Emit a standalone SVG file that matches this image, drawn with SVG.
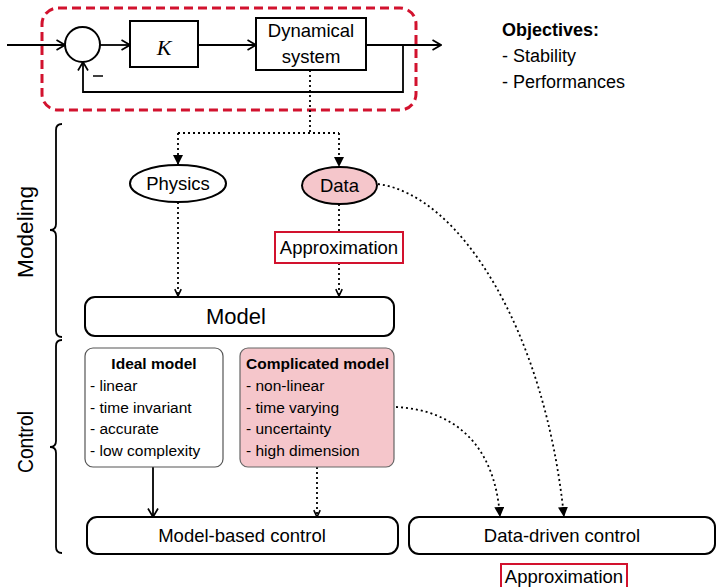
<svg xmlns="http://www.w3.org/2000/svg" width="716" height="587" viewBox="0 0 716 587">
<style>
text{font-family:"Liberation Sans",Arial,sans-serif;fill:#000}
.ln{fill:none;stroke:#000;stroke-width:1.8}
.dot{fill:none;stroke:#000;stroke-width:1.8;stroke-dasharray:2 3}
.box{fill:#fff;stroke:#000;stroke-width:2}
.pink{fill:#f5c6cb}
.red{fill:#fff;stroke:#d2122e;stroke-width:2}
.t18{font-size:18.5px}
.t15{font-size:15.5px}
.b{font-weight:bold}
</style>
<defs>
<marker id="open" viewBox="0 0 10 12" refX="9.5" refY="6" markerWidth="10" markerHeight="12" markerUnits="userSpaceOnUse" orient="auto"><path d="M1,1 L9.5,6 L1,11" fill="none" stroke="#000" stroke-width="1.7"/></marker>
<marker id="openS" viewBox="0 0 10 10" refX="9.5" refY="5" markerWidth="8" markerHeight="8" markerUnits="userSpaceOnUse" orient="auto"><path d="M1,1 L9.5,5 L1,9" fill="none" stroke="#000" stroke-width="2"/></marker>
<marker id="tri" viewBox="0 0 10 10" refX="10" refY="5" markerWidth="10" markerHeight="10" markerUnits="userSpaceOnUse" orient="auto"><path d="M0,0 L10,5 L0,10 Z" fill="#000"/></marker>
</defs>

<rect x="42" y="8" width="374" height="102" rx="16" fill="none" stroke="#d2122e" stroke-width="3" stroke-dasharray="9 5"/>

<g id="connectors">
<line class="ln" x1="7" y1="45" x2="65" y2="45" marker-end="url(#open)"/>
<line class="ln" x1="100" y1="45" x2="130" y2="45" marker-end="url(#open)"/>
<line class="ln" x1="198" y1="45" x2="256" y2="45" marker-end="url(#open)"/>
<line class="ln" x1="366" y1="45" x2="441" y2="45" marker-end="url(#open)"/>
<polyline class="ln" points="403,45 403,92 83,92 83,62" marker-end="url(#open)"/>
<polyline class="dot" points="310,70 310,133"/>
<polyline class="dot" points="178,133 339,133"/>
<line class="dot" x1="178" y1="133" x2="178" y2="165" marker-end="url(#tri)"/>
<line class="dot" x1="339" y1="133" x2="339" y2="167" marker-end="url(#tri)"/>
<line class="dot" x1="178" y1="202" x2="178" y2="296" marker-end="url(#openS)"/>
<line class="dot" x1="339" y1="204" x2="339" y2="232"/>
<line class="dot" x1="339" y1="263" x2="339" y2="296" marker-end="url(#openS)"/>
<line class="ln" x1="153" y1="467" x2="153" y2="517" marker-end="url(#open)"/>
<line class="dot" x1="317" y1="467" x2="317" y2="517" marker-end="url(#openS)"/>
<path class="dot" d="M378,184 C460,195 545,330 564,517" marker-end="url(#tri)"/>
<path class="dot" d="M396,407 C455,410 495,445 500,517" marker-end="url(#tri)"/>
</g>

<g id="sum"><circle cx="82.5" cy="44.5" r="17.5" class="box"/><line x1="93" y1="76" x2="103" y2="76" stroke="#000" stroke-width="1.5"/></g>
<g id="K"><rect x="130" y="21" width="68" height="46" class="box"/><text x="164" y="55" text-anchor="middle" style="font-family:'Liberation Serif',serif;font-style:italic;font-size:22px">K</text></g>
<g id="dyn"><rect x="256" y="18" width="110" height="52" class="box"/><text class="t18" x="311" y="37" text-anchor="middle">Dynamical</text><text class="t18" x="311" y="63" text-anchor="middle">system</text></g>

<g id="objectives"><text x="502" y="36" style="font-size:18px;font-weight:bold">Objectives:</text><text x="502" y="62" style="font-size:18px">- Stability</text><text x="502" y="88" style="font-size:18px">- Performances</text></g>

<g id="physics"><ellipse cx="178" cy="183.5" rx="48" ry="18.5" class="box"/><text class="t18" x="178" y="190" text-anchor="middle">Physics</text></g>
<g id="data"><ellipse cx="339.5" cy="185.5" rx="37.5" ry="18.5" class="box pink"/><text class="t18" x="339.5" y="192" text-anchor="middle">Data</text></g>
<g id="approx1"><rect x="275" y="232" width="128" height="31" class="red"/><text class="t18" x="339" y="254" text-anchor="middle">Approximation</text></g>
<g id="model"><rect x="85" y="297" width="309" height="39" rx="10" class="box"/><text x="236" y="324" text-anchor="middle" style="font-size:22px">Model</text></g>

<g id="ideal"><rect x="85" y="348" width="138" height="119" rx="8" fill="#fff" stroke="#555" stroke-width="1.2"/>
<text class="t15 b" x="154" y="369" text-anchor="middle">Ideal model</text>
<text class="t15" x="90" y="391">- linear</text><text class="t15" x="90" y="413">- time invariant</text><text class="t15" x="90" y="434">- accurate</text><text class="t15" x="90" y="456">- low complexity</text></g>
<g id="complicated"><rect x="240" y="348" width="154" height="119" rx="8" fill="#f5c6cb" stroke="#666" stroke-width="1.2"/>
<text class="t15 b" x="246" y="369">Complicated model</text>
<text class="t15" x="246" y="391">- non-linear</text><text class="t15" x="246" y="413">- time varying</text><text class="t15" x="246" y="434">- uncertainty</text><text class="t15" x="246" y="456">- high dimension</text></g>

<g id="mbc"><rect x="87" y="517" width="311" height="37" rx="10" class="box"/><text class="t18" x="242" y="542" text-anchor="middle">Model-based control</text></g>
<g id="ddc"><rect x="409" y="517" width="306" height="37" rx="10" class="box"/><text class="t18" x="562" y="542" text-anchor="middle">Data-driven control</text></g>
<g id="approx2"><rect x="501" y="564" width="126" height="32" class="red"/><text class="t18" x="564" y="583" text-anchor="middle">Approximation</text></g>

<g id="braces">
<path class="ln" d="M62,124 Q56,124 56,130 L56,224 Q56,230 50,230 Q56,230 56,236 L56,331 Q56,337 62,337"/>
<path class="ln" d="M62,340 Q56,340 56,346 L56,441 Q56,447 50,447 Q56,447 56,453 L56,547 Q56,553 62,553"/>
</g>
<g id="labels">
<text transform="translate(33,232) rotate(-90)" text-anchor="middle" textLength="92" lengthAdjust="spacingAndGlyphs" style="font-size:22px">Modeling</text>
<text transform="translate(33,442) rotate(-90)" text-anchor="middle" textLength="62" lengthAdjust="spacingAndGlyphs" style="font-size:22px">Control</text>
</g>
</svg>
